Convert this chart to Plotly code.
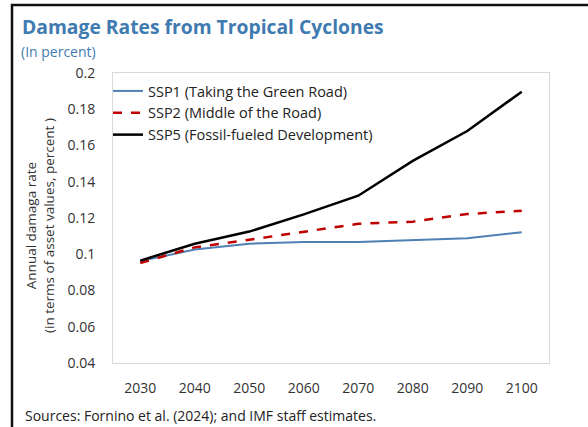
import plotly.graph_objects as go

years = [2030, 2040, 2050, 2060, 2070, 2080, 2090, 2100]
ssp1 = [0.0962, 0.1026, 0.1058, 0.1068, 0.1068, 0.1076, 0.1088, 0.1122]
ssp2 = [0.0952, 0.1038, 0.1080, 0.1126, 0.1168, 0.1180, 0.1222, 0.1240]
ssp5 = [0.0965, 0.1058, 0.1125, 0.1220, 0.1323, 0.1515, 0.1680, 0.1897]
names = ["SSP1 (Taking the Green Road)", "SSP2 (Middle of the Road)", "SSP5 (Fossil-fueled Development)"]
yticks = [0.04, 0.06, 0.08, 0.1, 0.12, 0.14, 0.16, 0.18, 0.2]
ytick_text = ["0.04", "0.06", "0.08", "0.1", "0.12", "0.14", "0.16", "0.18", "0.2"]

FONT = "Open Sans"
W, H = 588, 427
L, R, T, B = 113, 39, 73, 64
pw, ph = W - L - R, H - T - B

def px(x):
    return (x - L) / pw

def py(y):
    return 1 - (y - T) / ph

fig = go.Figure()
fig.add_trace(go.Scatter(x=years, y=ssp1, name=names[0], mode="lines",
                         line=dict(color="#4f81b4", width=2)))
fig.add_trace(go.Scatter(x=years, y=ssp2, name=names[1], mode="lines",
                         line=dict(color="#c00000", width=2.5, dash="dash")))
fig.add_trace(go.Scatter(x=years, y=ssp5, name=names[2], mode="lines",
                         line=dict(color="#000000", width=2.5)))

fig.update_layout(
    width=W, height=H,
    margin=dict(l=L, r=R, t=T, b=B),
    paper_bgcolor="white", plot_bgcolor="white",
    font=dict(family=FONT, size=14, color="#333333"),
    showlegend=True,
    legend=dict(x=px(108), y=py(75), xanchor="left", yanchor="top",
                bgcolor="rgba(0,0,0,0)", borderwidth=0,
                font=dict(family=FONT, size=14.5, color="#222222"),
                tracegroupgap=0, itemwidth=30),
    xaxis=dict(range=[2025, 2105], tickmode="array", tickvals=years,
               ticktext=[str(y) for y in years], showgrid=False, zeroline=False,
               showline=True, linecolor="#d9d9d9", linewidth=1, mirror=True,
               ticks="", ticklabelstandoff=12,
               tickfont=dict(family=FONT, size=14, color="#333333")),
    yaxis=dict(range=[0.04, 0.2], tickmode="array", tickvals=yticks,
               ticktext=ytick_text, showgrid=False, zeroline=False,
               showline=True, linecolor="#d9d9d9", linewidth=1, mirror=True,
               ticks="", ticklabelstandoff=14,
               tickfont=dict(family=FONT, size=14, color="#333333")),
)

# axis title (two lines, rotated)
fig.add_annotation(xref="paper", yref="paper", x=px(40), y=py(226),
                   text="Annual damaga rate<br>(in terms of asset values, percent )",
                   textangle=-90, showarrow=False, xanchor="center", yanchor="middle",
                   font=dict(family=FONT, size=13.5, color="#333333"))

# title and subtitle
fig.add_annotation(xref="paper", yref="paper", x=px(19.5), y=py(26.5),
                   text="<b>Damage Rates from Tropical Cyclones</b>", showarrow=False,
                   xanchor="left", yanchor="middle",
                   font=dict(family=FONT, size=19.3, color="#3f7bb0"))
fig.add_annotation(xref="paper", yref="paper", x=px(19), y=py(51),
                   text="(In percent)", showarrow=False,
                   xanchor="left", yanchor="middle",
                   font=dict(family=FONT, size=14, color="#3f7bb0"))

# source note
fig.add_annotation(xref="paper", yref="paper", x=px(23), y=py(415),
                   text="Sources: Fornino et al. (2024); and IMF staff estimates.", showarrow=False,
                   xanchor="left", yanchor="middle",
                   font=dict(family=FONT, size=14, color="#222222"))

# outer frame (left and top edges visible)
fig.add_shape(type="rect", xref="paper", yref="paper",
              x0=px(12), x1=px(620), y0=py(460), y1=py(5),
              line=dict(color="#111111", width=2.5), fillcolor="rgba(0,0,0,0)", layer="above")

fig.write_html("out.html")
